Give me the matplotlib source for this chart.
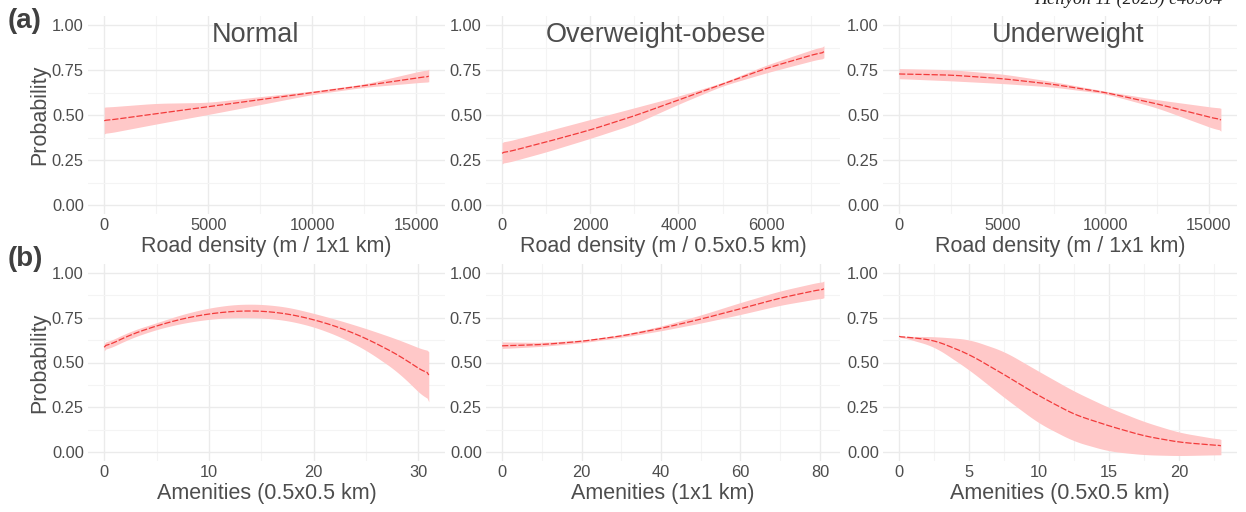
import matplotlib
matplotlib.use("Agg")
import matplotlib.pyplot as plt
import numpy as np

# ---------------- data ----------------
# (a) Road density
rd_normal_x = [0, 2500, 5000, 7500, 10000, 12500, 15600]
rd_normal_fit = [0.468, 0.507, 0.546, 0.585, 0.624, 0.663, 0.716]
rd_normal_lo = [0.395, 0.450, 0.503, 0.558, 0.614, 0.654, 0.685]
rd_normal_hi = [0.543, 0.565, 0.570, 0.602, 0.633, 0.672, 0.755]

rd_over_x = [0, 1000, 2000, 3000, 4000, 5000, 6000, 7300]
rd_over_fit = [0.287, 0.350, 0.417, 0.495, 0.583, 0.672, 0.760, 0.852]
rd_over_lo = [0.228, 0.295, 0.370, 0.450, 0.560, 0.662, 0.735, 0.818]
rd_over_hi = [0.346, 0.410, 0.475, 0.540, 0.605, 0.680, 0.778, 0.885]

rd_under_x = [0, 2500, 5000, 7500, 10000, 12500, 15600]
rd_under_fit = [0.728, 0.722, 0.702, 0.670, 0.625, 0.562, 0.472]
rd_under_lo = [0.702, 0.690, 0.675, 0.655, 0.618, 0.540, 0.410]
rd_under_hi = [0.758, 0.752, 0.728, 0.685, 0.632, 0.585, 0.537]

# (b) Amenities
am_normal_x = [0, 2.5, 5, 7.5, 10, 12.5, 15, 17.5, 20, 22.5, 25, 28, 31]
am_normal_fit = [0.585, 0.655, 0.705, 0.745, 0.772, 0.787, 0.788, 0.772, 0.740, 0.695, 0.635, 0.545, 0.430]
am_normal_lo = [0.565, 0.635, 0.685, 0.720, 0.742, 0.752, 0.750, 0.735, 0.700, 0.645, 0.570, 0.450, 0.280]
am_normal_hi = [0.605, 0.675, 0.722, 0.770, 0.805, 0.825, 0.826, 0.810, 0.775, 0.735, 0.690, 0.630, 0.560]

am_over_x = [0, 10, 20, 30, 40, 50, 60, 70, 81]
am_over_fit = [0.593, 0.600, 0.618, 0.648, 0.690, 0.742, 0.800, 0.860, 0.912]
am_over_lo = [0.578, 0.590, 0.610, 0.640, 0.677, 0.720, 0.768, 0.820, 0.862]
am_over_hi = [0.615, 0.612, 0.625, 0.655, 0.703, 0.765, 0.835, 0.900, 0.955]

am_under_x = [0, 2.5, 5, 7.5, 10, 12.5, 15, 17.5, 20, 23]
am_under_fit = [0.646, 0.625, 0.546, 0.433, 0.314, 0.210, 0.146, 0.090, 0.055, 0.035]
am_under_lo = [0.646, 0.590, 0.460, 0.305, 0.160, 0.060, 0.005, -0.015, -0.020, -0.015]
am_under_hi = [0.646, 0.645, 0.630, 0.563, 0.450, 0.340, 0.248, 0.170, 0.110, 0.070]

titles = ["Normal", "Overweight-obese", "Underweight"]
xlabels_a = ["Road density (m / 1x1 km)", "Road density (m / 0.5x0.5 km)", "Road density (m / 1x1 km)"]
xlabels_b = ["Amenities (0.5x0.5 km)", "Amenities (1x1 km)", "Amenities (0.5x0.5 km)"]
xticks_a = [[0, 5000, 10000, 15000], [0, 2000, 4000, 6000], [0, 5000, 10000, 15000]]
xticks_b = [[0, 10, 20, 30], [0, 20, 40, 60, 80], [0, 5, 10, 15, 20]]
yticks = [0.0, 0.25, 0.5, 0.75, 1.0]
ytick_labels = ["0.00", "0.25", "0.50", "0.75", "1.00"]

# ---------------- style ----------------
plt.rcParams['font.family'] = ['Liberation Sans', 'DejaVu Sans']
W, H = 1246, 512
fig = plt.figure(figsize=(W / 100, H / 100), dpi=100)

TXT = "#4d4d4d"
MAJ = "#ebebeb"
MIN = "#f4f4f4"
FILL = "#ffc8c8"
LINE = "#f23a3a"

cols = [(88, 445), (486, 840), (883, 1237)]
rows = [(16, 214), (264, 461)]

series = [
    [(rd_normal_x, rd_normal_fit, rd_normal_lo, rd_normal_hi),
     (rd_over_x, rd_over_fit, rd_over_lo, rd_over_hi),
     (rd_under_x, rd_under_fit, rd_under_lo, rd_under_hi)],
    [(am_normal_x, am_normal_fit, am_normal_lo, am_normal_hi),
     (am_over_x, am_over_fit, am_over_lo, am_over_hi),
     (am_under_x, am_under_fit, am_under_lo, am_under_hi)],
]
xlabels = [xlabels_a, xlabels_b]
xticks_all = [xticks_a, xticks_b]

title_px = [256, 656, 1068]


def smooth(x, vals, xs, k=15):
    y = np.interp(xs, x, vals)
    ker = np.ones(k) / k
    yp = np.pad(y, k // 2, mode='edge')
    ys = np.convolve(yp, ker, mode='valid')
    ys[0] = vals[0]
    ys[-1] = vals[-1]
    return ys


for r, (top, bot) in enumerate(rows):
    for c, (left, right) in enumerate(cols):
        ax = fig.add_axes([left / W, 1 - bot / H, (right - left) / W, (bot - top) / H])
        x, fit, lo, hi = series[r][c]
        x = np.asarray(x, float)
        xs = np.linspace(x.min(), x.max(), 200)
        ax.fill_between(xs, smooth(x, lo, xs), smooth(x, hi, xs), color=FILL, lw=0, zorder=2)
        ax.plot(xs, smooth(x, fit, xs), color=LINE, lw=0.9, ls=(0, (5, 1.5)), zorder=3)

        xt = xticks_all[r][c]
        ax.set_xticks(xt)
        ax.set_xticklabels([str(v) for v in xt])
        step = xt[1] - xt[0]
        minor = [v + step / 2 for v in [xt[0] - step] + xt]
        ax.set_xticks(minor, minor=True)
        ax.set_yticks(yticks)
        ax.set_yticklabels(ytick_labels)
        ax.set_yticks([-0.125 + 0.25 * i for i in range(6)], minor=True)
        span = x.max() - x.min()
        ax.set_xlim(x.min() - 0.05 * span, x.max() + 0.05 * span)
        ax.set_ylim(-0.05, 1.05)
        ax.grid(which='major', color=MAJ, lw=1.0, zorder=0)
        ax.grid(which='minor', color=MIN, lw=0.8, zorder=0)
        ax.set_axisbelow(True)
        for s in ax.spines.values():
            s.set_visible(False)
        ax.tick_params(which='both', length=0, labelsize=11.8, labelcolor=TXT, pad=3)
        ax.set_xlabel(xlabels[r][c], fontsize=15.5, color=TXT, labelpad=2)
        if c == 0:
            ax.set_ylabel("Probability", fontsize=15.5, color=TXT, labelpad=1)
        if r == 0:
            fig.text(title_px[c] / W, 1 - 41.5 / H, titles[c], fontsize=19.5,
                     color=TXT, ha='center', va='baseline')

fig.text(8 / W, 1 - 21 / H, "(a)", fontsize=20, fontweight='bold', color="#404040",
         ha='left', va='center')
fig.text(8 / W, 1 - 259 / H, "(b)", fontsize=20, fontweight='bold', color="#404040",
         ha='left', va='center')
fig.text(1222 / W, 1 - 4 / H, "Heliyon 11 (2025) e40904", fontsize=13, style='italic',
         family=['Liberation Serif', 'DejaVu Serif'], color="#222222", ha='right', va='baseline')

fig.savefig("out.png", dpi=100, facecolor="white")
